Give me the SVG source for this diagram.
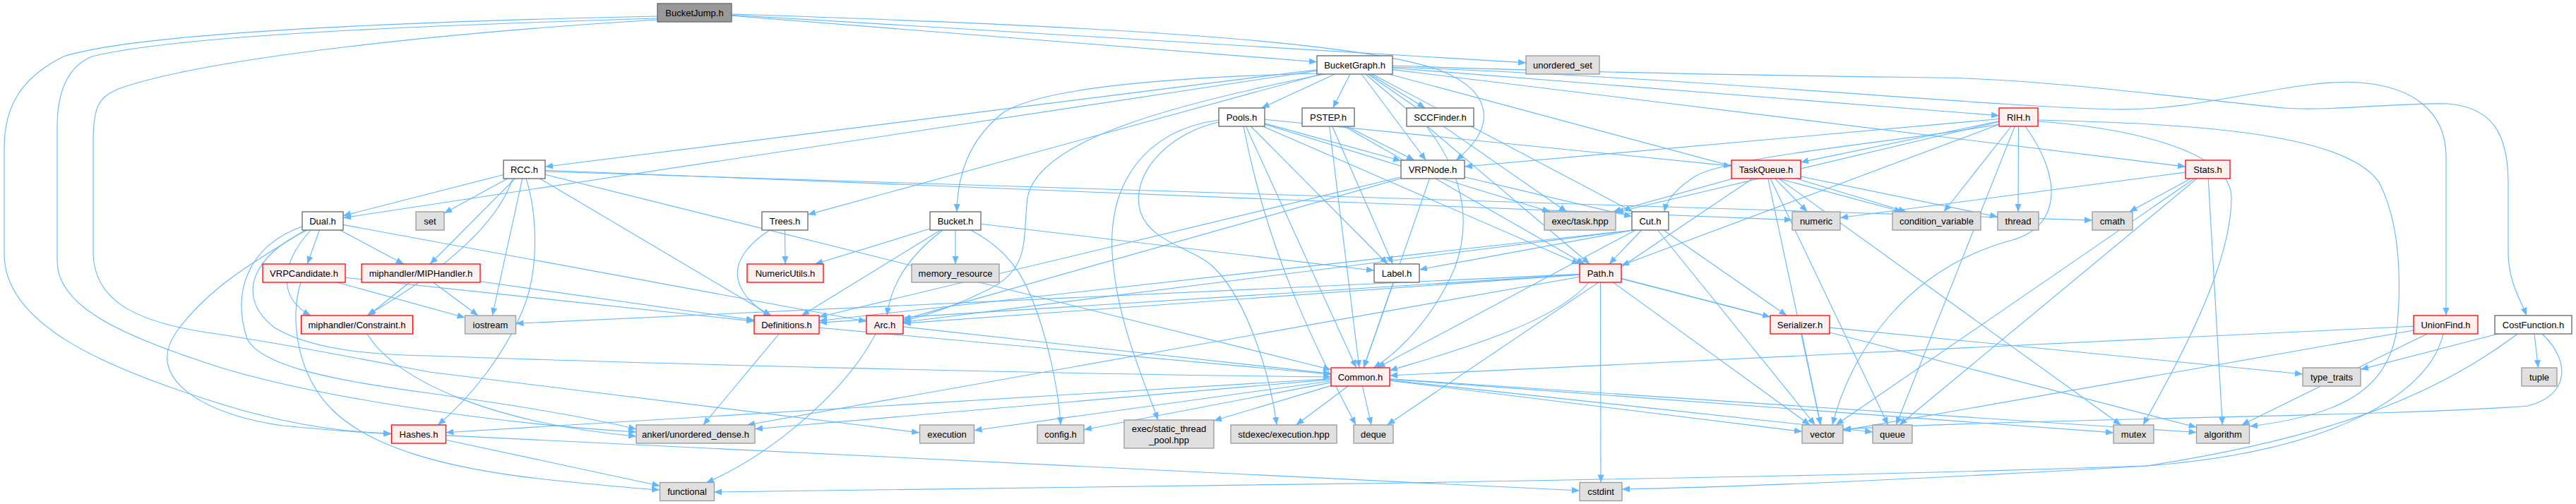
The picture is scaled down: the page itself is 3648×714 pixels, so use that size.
<svg xmlns="http://www.w3.org/2000/svg" width="3648" height="714" viewBox="0 0 3648 714">
<defs>
<marker id="a" markerWidth="12" markerHeight="10" refX="11" refY="4.5" orient="auto" markerUnits="userSpaceOnUse"><path d="M0,0 L11,4.5 L0,9 z" fill="#63b8ff"/></marker>
<style>
.e path{fill:none;stroke:#63b8ff;stroke-width:1.1;marker-end:url(#a)}
.w rect{fill:#ffffff;stroke:#666666;stroke-width:1.3}
.r rect{fill:#fff0f0;stroke:#ff0000;stroke-width:1.3}
.g rect{fill:#e0e0e0;stroke:#999999;stroke-width:1.3}
.k rect{fill:#999999;stroke:#666666;stroke-width:1.3}
text{font-family:"Liberation Sans",Arial,sans-serif;font-size:13px;text-anchor:middle;fill:#000}
</style>
</defs>
<rect width="3648" height="714" fill="#fff"/>
<g id="edges" class="e">
<path d="M1036,22.2 L1865,87.8"/>
<path d="M1036,21.2 L2161,88.9"/>
<path d="M1036,20 C1500,35 1920,55 2040,100 C2115,130 2120,180 2062,227"/>
<path d="M931,23 C600,30 200,45 90,80 C30,110 6,150 6,210 L6,360 C6,460 150,520 290,565 C380,595 470,612 554,614"/>
<path d="M931,26 C600,36 250,50 130,80 C95,95 81,130 81,180 L81,370 C81,430 160,470 280,510 C420,560 700,600 901,612"/>
<path d="M931,28 C650,45 300,80 170,125 C140,137 132,150 132,200 L132,360 C134,420 180,455 300,472 C420,490 520,510 608,527 L1216,602 L1302,613"/>
<path d="M1890.4,105 L1786.6,153"/>
<path d="M1911.9,105 L1887.6,153"/>
<path d="M1939.8,105 L2018.2,153"/>
<path d="M1972,96.2 L2831,163.8"/>
<path d="M1928.2,105 L2019.3,227"/>
<path d="M1865,98.7 L772,236.3"/>
<path d="M1972,98.6 L3095,236.1"/>
<path d="M1865,100.1 L486,308.6"/>
<path d="M1871,105 L1144,304.1"/>
<path d="M1872,104 C1700,108 1480,120 1420,160 C1370,200 1356,250 1355,300"/>
<path d="M1943.1,105 L2312.4,300"/>
<path d="M1967,105 L2694,300"/>
<path d="M1972,95 C2400,110 2800,150 2994,155 C3120,158 3250,110 3342,117 C3420,123 3463,160 3464,220 L3464,447"/>
<path d="M1972,93 C2300,105 2600,108 2742,110 C2900,112 3100,140 3234,153 C3300,158 3400,145 3466,147 C3530,152 3552,190 3552,260 L3552,357 C3552,400 3570,425 3578,447"/>
<path d="M1880,104 C1650,150 1470,200 1455,280 C1448,340 1460,380 1400,410 C1360,430 1320,445 1279,455"/>
<path d="M1933.8,105 L2251.2,374"/>
<path d="M1937.3,105 L2218.7,300"/>
<path d="M1726,170 C1620,185 1570,260 1575,357 C1580,450 1620,540 1640,595"/>
<path d="M1726,173 C1650,190 1600,250 1615,300 C1630,345 1690,350 1720,380 C1770,430 1800,540 1808,602"/>
<path d="M1761,179 C1790,330 1840,450 1920,602"/>
<path d="M1791,174.9 L1984,227.7"/>
<path d="M1771.4,179 L1965.1,374"/>
<path d="M1764.4,179 L1920.6,521"/>
<path d="M1788.4,179 L2237,374.2"/>
<path d="M1791,176 L2195.1,300"/>
<path d="M1791,169.2 L2452,235.1"/>
<path d="M1907,179 L2003,227"/>
<path d="M1882.6,179 L1924.9,521"/>
<path d="M1886.7,179 L1972.3,374"/>
<path d="M1903.7,179 L2243.8,374"/>
<path d="M2020,179 C2060,230 2090,300 2060,380 C2030,450 1980,500 1945,521"/>
<path d="M2831,168.5 L2074,236"/>
<path d="M2831,171.7 L2550,229.9"/>
<path d="M2831,172.5 L2288,301"/>
<path d="M2831,176 C2700,200 2450,220 2400,250 C2370,270 2360,285 2357,300"/>
<path d="M2848.2,179 L2752.8,300"/>
<path d="M2858.5,179 L2858,300"/>
<path d="M2831,176.3 L2296,376"/>
<path d="M2868,179 C2920,250 2920,320 2850,340 C2700,380 2620,500 2595,602"/>
<path d="M2853.3,179 L2685.2,602"/>
<path d="M2886,172 C3000,180 3160,210 3160,280 C3160,380 3080,520 3035,602"/>
<path d="M2886,170 C3050,175 3320,180 3370,260 C3400,320 3400,400 3395,460 C3385,560 3300,590 3186,604"/>
<path d="M713,247.5 L486,305.6"/>
<path d="M718.7,253 L629,302.1"/>
<path d="M729.5,253 L609,374"/>
<path d="M726,253 C700,330 600,400 519.5,447"/>
<path d="M739.7,253 L697.3,447"/>
<path d="M745,253 C760,300 765,380 740,440 C715,500 670,560 620,602"/>
<path d="M764.5,253 L1092,447"/>
<path d="M772,247.3 L1885,523.7"/>
<path d="M772,241.2 L2538,311.6"/>
<path d="M772,243 L2963,312.1"/>
<path d="M1984,252.8 L1279,452.6"/>
<path d="M1984,250.8 L1160,449"/>
<path d="M2024.5,253 L1931,521"/>
<path d="M2074,250.7 L2311,306.8"/>
<path d="M2454.1,253 L2284.4,300"/>
<path d="M2513.6,253 L2559.4,300"/>
<path d="M2544,253 L2699.5,300"/>
<path d="M2550,250 L2829,307.1"/>
<path d="M2519,253 L3003.5,602"/>
<path d="M2507.2,253 L2673.8,602"/>
<path d="M2503.8,253 L2578.2,602"/>
<path d="M2481.7,253 L1964.3,602"/>
<path d="M3095,244.1 L2606,308.5"/>
<path d="M3102.5,253 L3015.5,300"/>
<path d="M3111,253 L2689.7,602"/>
<path d="M3107.6,253 L2599.9,602"/>
<path d="M3127.2,253 L3147.3,602"/>
<path d="M452.3,326 L435.2,374"/>
<path d="M481.4,326 L571.6,374"/>
<path d="M440,326 C400,370 390,420 440,447"/>
<path d="M432,326 C380,360 300,400 250,470 C200,540 300,590 400,603 C470,610 520,613 554,615"/>
<path d="M435,326 C360,360 330,420 390,465 C450,500 550,503 608,504 C900,515 1500,530 1885,534"/>
<path d="M430,320 C345,350 330,420 350,480 C370,520 480,540 608,557 C750,577 850,595 901,608"/>
<path d="M486,318.4 L1227,455.2"/>
<path d="M1090,326 C1060,345 1040,370 1045,395 C1050,420 1075,440 1092,447"/>
<path d="M1111.5,326 L1112,374"/>
<path d="M1317,324 L1154.3,374"/>
<path d="M1331.9,326 L1135.1,447"/>
<path d="M1335,326 C1290,360 1262,400 1256,447"/>
<path d="M1353,326 L1353,374"/>
<path d="M1375,326 C1410,345 1440,370 1460,420 C1485,480 1500,560 1502,602"/>
<path d="M1389,317.3 L1946,383.2"/>
<path d="M2313,326 L2010,382"/>
<path d="M2324.6,326 L2278.9,374"/>
<path d="M2316,326 L1950.6,521"/>
<path d="M2313,326 L1279,456.5"/>
<path d="M2313,326 L1160,454.5"/>
<path d="M2355.7,326 L2530.3,447"/>
<path d="M2347.5,326 L2570.5,602"/>
<path d="M477.5,400 L658.5,450"/>
<path d="M489,393.2 L1068,455.1"/>
<path d="M426,400 C410,450 420,530 470,580 C520,630 620,665 800,682 C860,688 900,692 934,694"/>
<path d="M579.9,400 L521.6,447"/>
<path d="M613.5,400 L677,447"/>
<path d="M680,398.8 L1068,453.5"/>
<path d="M1973.4,400 L1931.1,521"/>
<path d="M2237,388.9 L1160,457.1"/>
<path d="M2237,389.1 L1279,458.1"/>
<path d="M2237,388.4 L730.5,458.3"/>
<path d="M2237,392.2 L1058,602"/>
<path d="M2250,400 C2200,460 2050,500 1968,525"/>
<path d="M2266.5,400 L2267,683.5"/>
<path d="M2296,394.6 L2507,449.1"/>
<path d="M2284.4,400 L2563.1,602"/>
<path d="M2296,394.6 L3110.5,605.3"/>
<path d="M520,473 C560,540 700,600 901,618"/>
<path d="M1103.2,473 L995.8,602"/>
<path d="M1160,464.2 L1885,530.2"/>
<path d="M1240,473 C1200,550 1100,640 1000,684"/>
<path d="M1279,462.9 L1885,529.4"/>
<path d="M2551.7,473 L2578.3,602"/>
<path d="M2591,464.1 L3261,530"/>
<path d="M3418,462.2 L1968,532"/>
<path d="M3418,468 L2610,609.9"/>
<path d="M3437,473 L3174.5,602"/>
<path d="M3460,473 C3440,560 3300,640 3040,660 C2700,680 2450,690 2297,693"/>
<path d="M3537.3,473 L3343,523.4"/>
<path d="M3589,473 L3594.5,521"/>
<path d="M3565,473 C3450,560 3300,620 3040,660 C2600,675 2300,678 2000,684 C1600,690 1200,695 1011,697"/>
<path d="M3600,473 C3640,510 3640,560 3580,575 C3400,590 2900,592 2610,608"/>
<path d="M1885,536.5 L631.5,612.7"/>
<path d="M1885,537.6 L1069,607.8"/>
<path d="M1885,539.7 L1379.5,609.7"/>
<path d="M1885,541.9 L1535,608.7"/>
<path d="M1885,546.4 L1719,596"/>
<path d="M1909.1,547 L1835.4,602"/>
<path d="M1929.5,547 L1942,602"/>
<path d="M1968,539.1 L2552,611.4"/>
<path d="M1968,538.5 L2652,612"/>
<path d="M1968,537.1 L2993,612.9"/>
<path d="M1968,536.8 L3110.5,612.5"/>
<path d="M631.5,623.3 L934.5,688.2"/>
<path d="M631.5,616.9 L2237,695"/>
</g>
<g id="n-BucketJump" class="k"><rect x="931" y="5" width="105" height="26"/><text x="983.5" y="22.5">BucketJump.h</text></g>
<g id="n-BucketGraph" class="w"><rect x="1865" y="79" width="107" height="26"/><text x="1918.5" y="96.5">BucketGraph.h</text></g>
<g id="n-unordered_set" class="g"><rect x="2161" y="79" width="104" height="26"/><text x="2213" y="96.5">unordered_set</text></g>
<g id="n-Pools" class="w"><rect x="1726" y="153" width="65" height="26"/><text x="1758.5" y="170.5">Pools.h</text></g>
<g id="n-PSTEP" class="w"><rect x="1844" y="153" width="74" height="26"/><text x="1881" y="170.5">PSTEP.h</text></g>
<g id="n-SCCFinder" class="w"><rect x="1992" y="153" width="95" height="26"/><text x="2039.5" y="170.5">SCCFinder.h</text></g>
<g id="n-RIH" class="r"><rect x="2831" y="153" width="55" height="26"/><text x="2858.5" y="170.5">RIH.h</text></g>
<g id="n-RCC" class="w"><rect x="713" y="227" width="59" height="26"/><text x="742.5" y="244.5">RCC.h</text></g>
<g id="n-VRPNode" class="w"><rect x="1984" y="227" width="90" height="26"/><text x="2029" y="244.5">VRPNode.h</text></g>
<g id="n-TaskQueue" class="r"><rect x="2452" y="227" width="98" height="26"/><text x="2501" y="244.5">TaskQueue.h</text></g>
<g id="n-Stats" class="r"><rect x="3095" y="227" width="63" height="26"/><text x="3126.5" y="244.5">Stats.h</text></g>
<g id="n-Dual" class="w"><rect x="428" y="300" width="58" height="26"/><text x="457" y="317.5">Dual.h</text></g>
<g id="n-set" class="g"><rect x="589" y="300" width="40" height="26"/><text x="609" y="317.5">set</text></g>
<g id="n-Trees" class="w"><rect x="1079" y="300" width="65" height="26"/><text x="1111.5" y="317.5">Trees.h</text></g>
<g id="n-Bucket" class="w"><rect x="1317" y="300" width="72" height="26"/><text x="1353" y="317.5">Bucket.h</text></g>
<g id="n-exec_task" class="g"><rect x="2187" y="300" width="101" height="26"/><text x="2237.5" y="317.5">exec/task.hpp</text></g>
<g id="n-Cut" class="w"><rect x="2311" y="300" width="52" height="26"/><text x="2337" y="317.5">Cut.h</text></g>
<g id="n-numeric" class="g"><rect x="2538" y="300" width="68" height="26"/><text x="2572" y="317.5">numeric</text></g>
<g id="n-condition_variable" class="g"><rect x="2680" y="300" width="125" height="26"/><text x="2742.5" y="317.5">condition_variable</text></g>
<g id="n-thread" class="g"><rect x="2829" y="300" width="58" height="26"/><text x="2858" y="317.5">thread</text></g>
<g id="n-cmath" class="g"><rect x="2963" y="300" width="57" height="26"/><text x="2991.5" y="317.5">cmath</text></g>
<g id="n-VRPCandidate" class="r"><rect x="372" y="374" width="117" height="26"/><text x="430.5" y="391.5">VRPCandidate.h</text></g>
<g id="n-MIPHandler" class="r"><rect x="512" y="374" width="168" height="26"/><text x="596" y="391.5">miphandler/MIPHandler.h</text></g>
<g id="n-NumericUtils" class="r"><rect x="1058" y="374" width="108" height="26"/><text x="1112" y="391.5">NumericUtils.h</text></g>
<g id="n-memory_resource" class="g"><rect x="1291" y="374" width="124" height="26"/><text x="1353" y="391.5">memory_resource</text></g>
<g id="n-Label" class="w"><rect x="1946" y="374" width="64" height="26"/><text x="1978" y="391.5">Label.h</text></g>
<g id="n-Path" class="r"><rect x="2237" y="374" width="59" height="26"/><text x="2266.5" y="391.5">Path.h</text></g>
<g id="n-Constraint" class="r"><rect x="426.5" y="447" width="158" height="26"/><text x="505.5" y="464.5">miphandler/Constraint.h</text></g>
<g id="n-iostream" class="g"><rect x="658.5" y="447" width="72" height="26"/><text x="694.5" y="464.5">iostream</text></g>
<g id="n-Definitions" class="r"><rect x="1068" y="447" width="92" height="26"/><text x="1114" y="464.5">Definitions.h</text></g>
<g id="n-Arc" class="r"><rect x="1227" y="447" width="52" height="26"/><text x="1253" y="464.5">Arc.h</text></g>
<g id="n-Serializer" class="r"><rect x="2507" y="447" width="84" height="26"/><text x="2549" y="464.5">Serializer.h</text></g>
<g id="n-UnionFind" class="r"><rect x="3418" y="447" width="91" height="26"/><text x="3463.5" y="464.5">UnionFind.h</text></g>
<g id="n-CostFunction" class="w"><rect x="3533" y="447" width="109" height="26"/><text x="3587.5" y="464.5">CostFunction.h</text></g>
<g id="n-Common" class="r"><rect x="1885" y="521" width="83" height="26"/><text x="1926.5" y="538.5">Common.h</text></g>
<g id="n-type_traits" class="g"><rect x="3261" y="521" width="82" height="26"/><text x="3302" y="538.5">type_traits</text></g>
<g id="n-tuple" class="g"><rect x="3571" y="521" width="50" height="26"/><text x="3596" y="538.5">tuple</text></g>
<g id="n-Hashes" class="r"><rect x="554.5" y="602" width="77" height="26"/><text x="593" y="619.5">Hashes.h</text></g>
<g id="n-ankerl" class="g"><rect x="901" y="602" width="168" height="26"/><text x="985" y="619.5">ankerl/unordered_dense.h</text></g>
<g id="n-execution" class="g"><rect x="1302.5" y="602" width="77" height="26"/><text x="1341" y="619.5">execution</text></g>
<g id="n-config" class="g"><rect x="1469" y="602" width="66" height="26"/><text x="1502" y="619.5">config.h</text></g>
<g id="n-static_thread_pool" class="g"><rect x="1592" y="595" width="127" height="40"/><text x="1655.5" y="612">exec/static_thread</text><text x="1655.5" y="628">_pool.hpp</text></g>
<g id="n-stdexec" class="g"><rect x="1743" y="602" width="150" height="26"/><text x="1818" y="619.5">stdexec/execution.hpp</text></g>
<g id="n-deque" class="g"><rect x="1917" y="602" width="56" height="26"/><text x="1945" y="619.5">deque</text></g>
<g id="n-vector" class="g"><rect x="2552" y="602" width="58" height="26"/><text x="2581" y="619.5">vector</text></g>
<g id="n-queue" class="g"><rect x="2652" y="602" width="56" height="26"/><text x="2680" y="619.5">queue</text></g>
<g id="n-mutex" class="g"><rect x="2993" y="602" width="57" height="26"/><text x="3021.5" y="619.5">mutex</text></g>
<g id="n-algorithm" class="g"><rect x="3110.5" y="602" width="75" height="26"/><text x="3148" y="619.5">algorithm</text></g>
<g id="n-functional" class="g"><rect x="934.5" y="683.5" width="77" height="26"/><text x="973" y="701">functional</text></g>
<g id="n-cstdint" class="g"><rect x="2237" y="683.5" width="60" height="26"/><text x="2267" y="701">cstdint</text></g>
</svg>
